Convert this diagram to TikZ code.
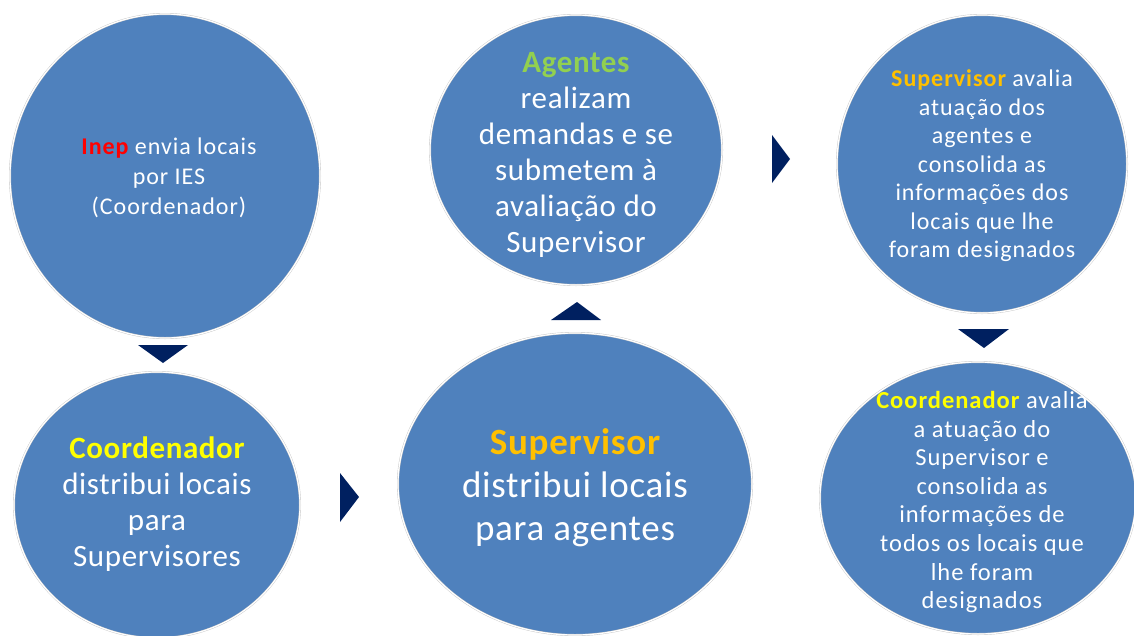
\documentclass[tikz,border=0pt]{standalone}
\usepackage{fontspec}
\setmainfont{Carlito}[LetterSpace=4]
\newfontfamily\bigfont{Carlito}[LetterSpace=2]
\usetikzlibrary{shapes.geometric}
\definecolor{bubblue}{HTML}{4F81BD}
\definecolor{navy}{HTML}{002060}
\definecolor{inepred}{HTML}{FF0000}
\definecolor{aggreen}{HTML}{92D050}
\definecolor{suporange}{HTML}{FFC000}
\definecolor{coordyellow}{HTML}{FFFF00}
\tikzset{
  bubble/.style={ellipse, fill=bubblue, draw=gray!45, double=white, double distance=1.2pt, inner sep=0pt},
  txt/.style={text=white, align=center, inner sep=0pt},
  tri/.style={fill=navy}
}
\newcommand{\Inep}{\textbf{\textcolor{inepred}{Inep}}}
\newcommand{\Agt}{\textbf{\textcolor{aggreen}{Agentes}}}
\newcommand{\Sup}{\textbf{\textcolor{suporange}{Supervisor}}}
\newcommand{\Coord}{\textbf{\textcolor{coordyellow}{Coordenador}}}
\begin{document}
\begin{tikzpicture}[x=1pt, y=-1pt]
\useasboundingbox (0,0) rectangle (1134,635);
% bubbles
\node[bubble, minimum width=310pt, minimum height=324pt] (inep) at (165,176) {};
\node[bubble, minimum width=286pt, minimum height=266pt] (coord) at (157,505) {};
\node[bubble, minimum width=354pt, minimum height=302pt] (superv) at (575,484) {};
\node[bubble, minimum width=292pt, minimum height=270pt] (agentes) at (576,150) {};
\node[bubble, minimum width=290pt, minimum height=298pt] (avalia) at (982,164) {};
\node[bubble, minimum width=316pt, minimum height=272pt] (coordaval) at (978,498) {};
% texts
\node[txt, font=\fontsize{24}{30}\selectfont] (t1) at ([xshift=4pt, yshift=-2pt]inep) {\Inep{} envia locais\\por IES\\(Coordenador)};
\node[txt, font=\bigfont\fontsize{31}{36}\selectfont] (t2) at ([yshift=1pt]coord) {\Coord\\distribui locais\\para\\Supervisores};
\node[txt, font=\bigfont\fontsize{37}{43}\selectfont] (t3) at ([yshift=-4pt]superv) {\Sup\\distribui locais\\para agentes};
\node[txt, font=\bigfont\fontsize{31}{36}\selectfont] (t4) at ([yshift=-5pt]agentes) {\Agt\\realizam\\demandas e se\\submetem à\\avaliação do\\Supervisor};
\node[txt, font=\fontsize{24}{28.5}\selectfont] (t5) at ([yshift=-2pt]avalia) {\Sup{} avalia\\atuação dos\\agentes e\\consolida as\\informações dos\\locais que lhe\\foram designados};
\node[txt, font=\fontsize{24.5}{28.6}\selectfont] (t6) at ([xshift=4pt, yshift=-4pt]coordaval) {\Coord{} avalia\\a atuação do\\Supervisor e\\consolida as\\informações de\\todos os locais que\\lhe foram\\designados};
% arrows
\fill[tri] (138,345) -- (188,345) -- (163,363) -- cycle;
\fill[tri] (340,473) -- (340,522) -- (359,497) -- cycle;
\fill[tri] (551,320) -- (601,320) -- (577,302) -- cycle;
\fill[tri] (772,135) -- (772,183) -- (790,159) -- cycle;
\fill[tri] (958,329) -- (1009,329) -- (984,348) -- cycle;
\end{tikzpicture}
\end{document}
